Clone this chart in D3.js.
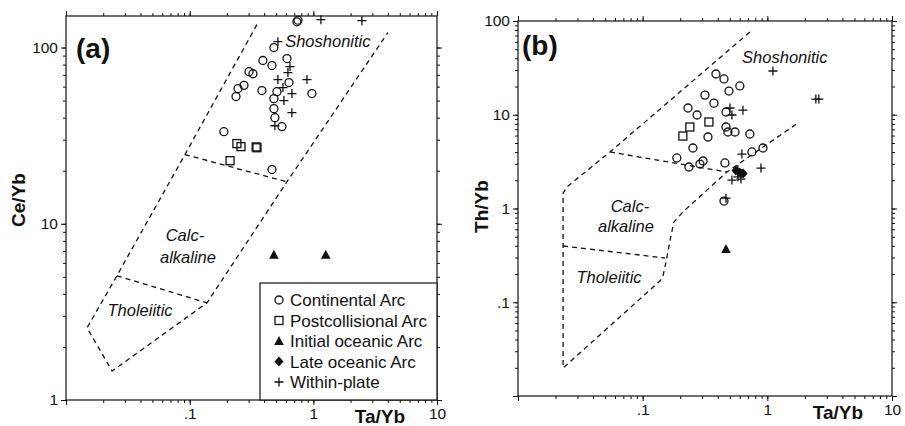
<!DOCTYPE html>
<html><head><meta charset="utf-8">
<script src="https://cdn.jsdelivr.net/npm/d3@7"></script>
<style>body{margin:0;background:#fff}svg{display:block}text{font-family:"Liberation Sans",Arial,Helvetica,sans-serif;fill:#111}</style>
</head><body>
<svg id="c" width="905" height="426"></svg>
<script>
// ---------- DATA ----------
// Panel (a): Ce/Yb vs Ta/Yb
const aContinental = [[0.737,140],[0.751,143],[0.480,100],[0.391,84.4],[0.463,79],[0.612,86.6],[0.302,73],[0.325,71],[0.275,61],[0.246,58.5],[0.237,52.7],[0.384,57],[0.635,63.3],[0.508,56.2],[0.480,51.3],[0.974,54.8],[0.480,45],[0.489,40],[0.557,35.6],[0.189,33.3],[0.463,20.3]];
const aPostcollisional = [[0.241,28.5],[0.260,27.4],[0.350,27.0],[0.345,27.3],[0.212,22.8]];
const aInitialOceanic = [[0.48,6.67],[1.26,6.67]];
const aLateOceanic = [];
const aWithinPlate = [[1.152,144],[2.47,142],[0.517,108],[0.647,78],[0.623,72.1],[0.517,65.8],[0.888,65.8],[0.568,59.3],[0.671,54.8],[0.578,50],[0.671,42.7],[0.489,36]];
const aOuter = [[0.35,135],[0.0916,24.7],[0.0258,5.07],[0.0148,2.57],[0.0236,1.46],[0.138,3.56],[0.612,17.3],[4.01,121.7]];
const aTholCalc = [[0.0258,5.07],[0.138,3.56]];
const aCalcSho = [[0.0916,24.7],[0.612,17.3]];

// Panel (b): Th/Yb vs Ta/Yb
const bContinental = [[0.387,27.2],[0.449,24.1],[0.492,17.9],[0.602,20.3],[0.316,16.2],[0.373,13.3],[0.231,11.8],[0.273,9.94],[0.466,10.7],[0.466,7.40],[0.483,6.55],[0.550,6.55],[0.724,6.23],[0.334,5.79],[0.253,4.42],[0.188,3.46],[0.235,2.77],[0.305,3.21],[0.288,2.98],[0.457,3.06],[0.752,4.01],[0.922,4.42],[0.449,1.20]];
const bPostcollisional = [[0.210,5.93],[0.239,7.40],[0.340,8.37]];
const bInitialOceanic = [[0.466,0.370]];
const bLateOceanic = [[0.56,2.55],[0.60,2.42],[0.64,2.36]];
const bWithinPlate = [[1.109,29.3],[2.45,14.7],[2.59,14.7],[0.637,11.2],[0.501,11.8],[0.520,9.94],[0.625,3.81],[0.889,2.70],[0.520,2.01],[0.614,2.06],[0.581,2.17],[0.466,1.29],[0.58,2.6]];
const bOuter = [[0.725,76.3],[0.0547,4.01],[0.0247,1.70],[0.023,1.46],[0.023,0.0199],[0.1376,0.1685],[0.1455,0.19],[0.154,0.269],[0.166,0.461],[0.178,0.718],[0.210,0.918],[0.474,2.45],[1.76,8.17]];
const bTholCalc = [[0.023,0.398],[0.151,0.2965]];
const bCalcSho = [[0.0547,4.01],[0.474,2.45]];

const xDomain = [0.01, 10];
const aYDomain = [1, 151];
const bYDomain = [0.01, 100];
const xTickLabels = [0.1, 1, 10];
const aYTickLabels = [1, 10, 100];
const bYTickLabels = [0.1, 1, 10, 100];
const legendNames = ["Continental Arc","Postcollisional Arc","Initial oceanic Arc","Late oceanic Arc","Within-plate"];
const legendKinds = ["circle","square","triangle","diamond","plus"];

// ---------- DRAW ----------
const svg = d3.select("#c");
svg.append("rect").attr("width",905).attr("height",426).attr("fill","#fff");
const INK = "#111";
const fmt = v => v < 1 ? String(v).replace(/^0/,"") : String(v);

function minorVals(lo, hi){
  const out=[];
  for(let e=Math.floor(Math.log10(lo)); e<=Math.ceil(Math.log10(hi)); e++){
    for(let k=1;k<10;k++){const v=k*Math.pow(10,e); if(v>=lo*0.999 && v<=hi*1.001) out.push(v);}
  }
  return out;
}

function symbol(g, kind, cx, cy){
  if(kind==="circle") g.append("circle").attr("cx",cx).attr("cy",cy).attr("r",4).attr("fill","none").attr("stroke",INK).attr("stroke-width",1.3);
  else if(kind==="square") g.append("rect").attr("x",cx-4).attr("y",cy-4).attr("width",8).attr("height",8).attr("fill","none").attr("stroke",INK).attr("stroke-width",1.3);
  else if(kind==="triangle") g.append("path").attr("d",`M${cx},${cy-5}L${cx+4.8},${cy+4}L${cx-4.8},${cy+4}Z`).attr("fill",INK);
  else if(kind==="diamond") g.append("path").attr("d",`M${cx},${cy-5}L${cx+4.5},${cy}L${cx},${cy+5}L${cx-4.5},${cy}Z`).attr("fill",INK);
  else if(kind==="plus") g.append("path").attr("d",`M${cx-4.5},${cy}H${cx+4.5}M${cx},${cy-4.5}V${cy+4.5}`).attr("stroke",INK).attr("stroke-width",1.3).attr("fill","none");
}

function panel(o){
  const x = d3.scaleLog().domain(xDomain).range([o.x0,o.x1]);
  const y = d3.scaleLog().domain(o.yDomain).range([o.y1,o.y0]);
  const g = svg.append("g");
  const isMaj = v => Math.abs(Math.log10(v)-Math.round(Math.log10(v)))<1e-9;
  const xMin = minorVals(xDomain[0],xDomain[1]);
  const xMaj = xMin.filter(isMaj);
  const yMin = minorVals(o.yDomain[0],o.yDomain[1]);
  const yMaj = yMin.filter(isMaj);
  const lblX = v => xTickLabels.some(t=>Math.abs(t-v)<1e-9) ? fmt(v) : "";
  const lblY = v => o.yLabels.some(t=>Math.abs(t-v)<1e-9) ? fmt(v) : "";
  function ax(gen, tr){
    const a = g.append("g").attr("transform",tr).call(gen);
    a.select(".domain").remove();
    a.selectAll("line").attr("stroke",INK).attr("stroke-width",1);
    a.selectAll("text").attr("font-size","15.5px").attr("fill",INK).style("font-family",'"Liberation Sans",Arial,sans-serif');
    return a;
  }
  ax(d3.axisBottom(x).tickValues(xMaj).tickSize(5).tickPadding(3).tickFormat(lblX), `translate(0,${o.y1})`);
  ax(d3.axisBottom(x).tickValues(xMin).tickSize(3).tickFormat(""), `translate(0,${o.y1})`);
  ax(d3.axisTop(x).tickValues(xMaj).tickSize(5).tickFormat(""), `translate(0,${o.y0})`);
  ax(d3.axisTop(x).tickValues(xMin).tickSize(3).tickFormat(""), `translate(0,${o.y0})`);
  ax(d3.axisLeft(y).tickValues(yMaj).tickSize(5).tickPadding(3).tickFormat(lblY), `translate(${o.x0},0)`);
  ax(d3.axisLeft(y).tickValues(yMin).tickSize(3).tickFormat(""), `translate(${o.x0},0)`);
  ax(d3.axisRight(y).tickValues(yMaj).tickSize(5).tickFormat(""), `translate(${o.x1},0)`);
  ax(d3.axisRight(y).tickValues(yMin).tickSize(3).tickFormat(""), `translate(${o.x1},0)`);
  g.append("rect").attr("x",o.x0).attr("y",o.y0).attr("width",o.x1-o.x0).attr("height",o.y1-o.y0)
    .attr("fill","none").attr("stroke",INK).attr("stroke-width",1.2);

  // field boundaries
  const line = d3.line().x(d=>x(d[0])).y(d=>y(d[1]));
  [o.outer,o.tholCalc,o.calcSho].forEach(pts=>{
    g.append("path").attr("d",line(pts)).attr("fill","none").attr("stroke",INK)
      .attr("stroke-width",1.3).attr("stroke-dasharray","5,4");
  });
  // field labels
  o.fieldLabels.forEach(fl=>{
    g.append("text").attr("x",x(fl.xv)).attr("y",y(fl.yv)).attr("text-anchor","middle")
      .attr("font-size","16.5px").attr("font-style","italic").text(fl.t);
  });
  // data
  const sets = [[o.cont,"circle"],[o.post,"square"],[o.init,"triangle"],[o.late,"diamond"],[o.wp,"plus"]];
  sets.forEach(([arr,kind])=>arr.forEach(d=>symbol(g,kind,x(d[0]),y(d[1]))));
  // titles
  g.append("text").attr("transform",`translate(${o.ytX},${(o.y0+o.y1)/2+o.ytDy}) rotate(-90)`).attr("text-anchor","middle")
    .attr("font-size","19px").attr("font-weight","bold").text(o.yTitle);
  g.append("text").attr("x",o.xtX).attr("y",o.y1+23).attr("text-anchor","middle")
    .attr("font-size","19px").attr("font-weight","bold").text("Ta/Yb");
  g.append("text").attr("x",o.x0+o.tagDx).attr("y",o.y0+o.tagDy).attr("font-size","28px").attr("font-weight","bold").text(o.tag);
  return {x,y,g};
}

const A = panel({x0:66,x1:437,y0:16,y1:400,yDomain:aYDomain,yLabels:aYTickLabels,
  outer:aOuter,tholCalc:aTholCalc,calcSho:aCalcSho,
  cont:aContinental,post:aPostcollisional,init:aInitialOceanic,late:aLateOceanic,wp:aWithinPlate,
  fieldLabels:[{t:"Shoshonitic",xv:1.31,yv:101},{t:"Calc-",xv:0.0916,yv:8.0},{t:"alkaline",xv:0.0969,yv:6.0},{t:"Tholeiitic",xv:0.0397,yv:3.0}],
  yTitle:"Ce/Yb",ytX:25,ytDy:-8,xtX:380,tag:"(a)",tagDx:10,tagDy:42});

const B = panel({x0:518,x1:892,y0:21,y1:396,yDomain:bYDomain,yLabels:bYTickLabels,
  outer:bOuter,tholCalc:bTholCalc,calcSho:bCalcSho,
  cont:bContinental,post:bPostcollisional,init:bInitialOceanic,late:bLateOceanic,wp:bWithinPlate,
  fieldLabels:[{t:"Shoshonitic",xv:1.38,yv:35.6},{t:"Calc-",xv:0.079,yv:0.918},{t:"alkaline",xv:0.0735,yv:0.561},{t:"Tholeiitic",xv:0.0537,yv:0.160}],
  yTitle:"Th/Yb",ytX:488,ytDy:-2,xtX:838,tag:"(b)",tagDx:4,tagDy:34});

// legend (panel a)
const lg = A.g.append("g");
lg.append("rect").attr("x",260).attr("y",283).attr("width",177).attr("height",117).attr("fill","#fff").attr("stroke",INK).attr("stroke-width",1.2);
legendNames.forEach((n,i)=>{
  const cy = 300 + i*20.5;
  symbol(lg, legendKinds[i], 279, cy);
  lg.append("text").attr("x",290).attr("y",cy+6).attr("font-size","17px").text(n);
});
</script>
</body></html>
